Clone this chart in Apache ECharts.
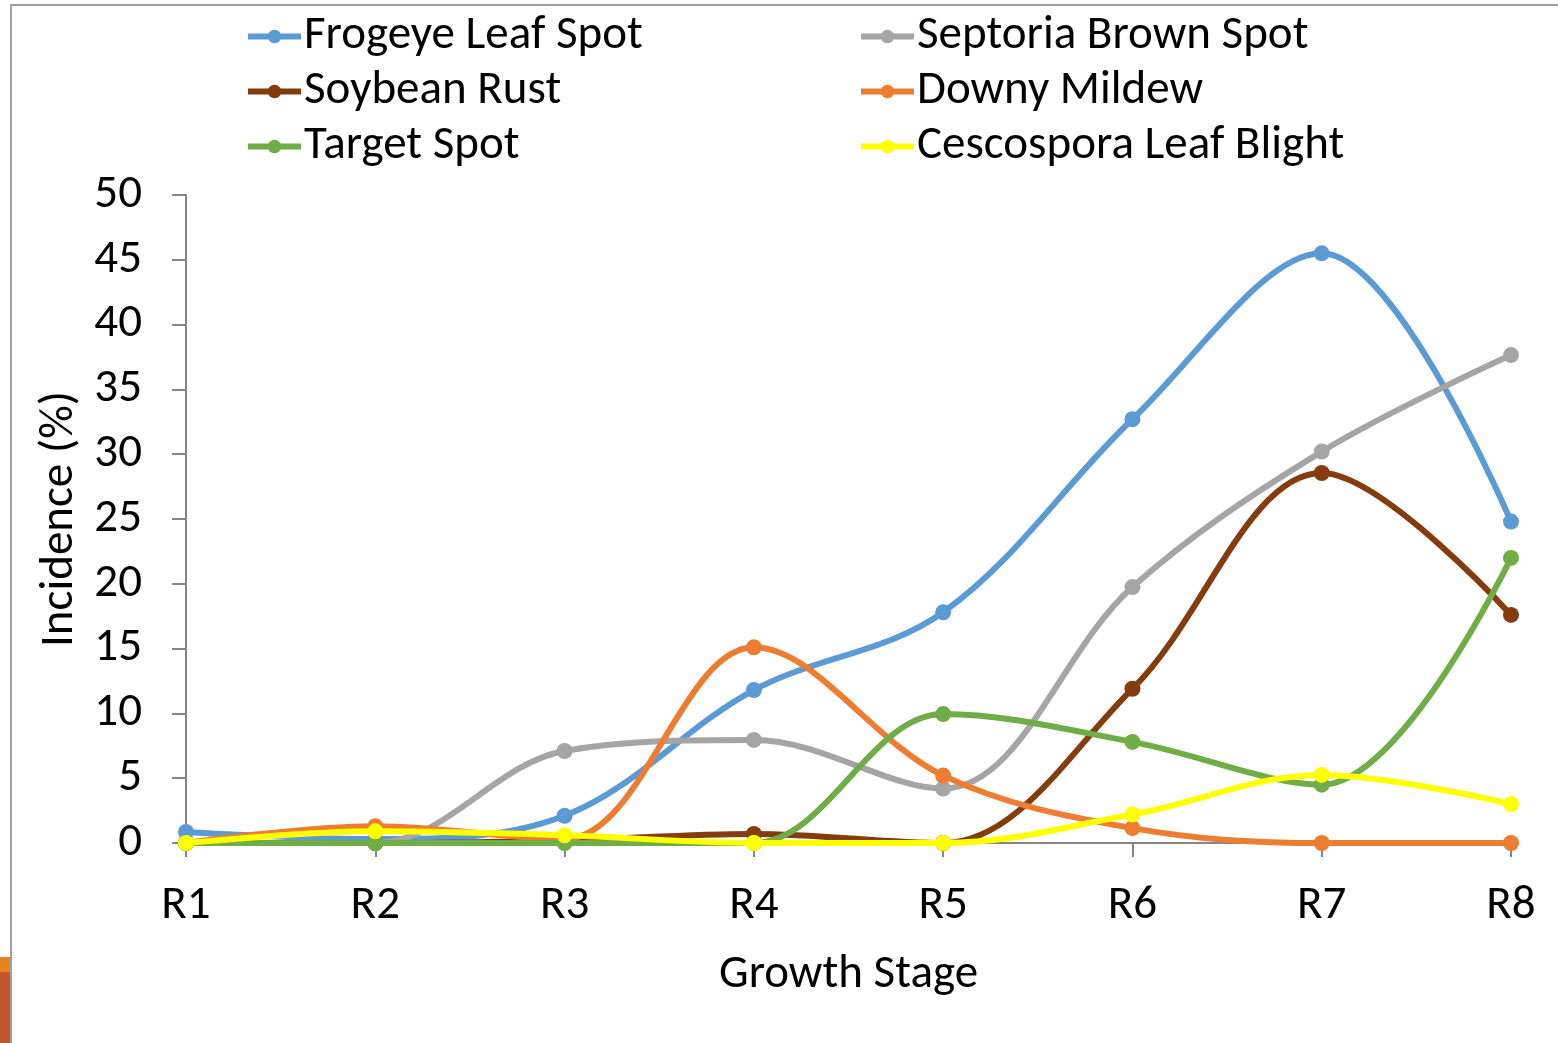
<!DOCTYPE html>
<html><head><meta charset="utf-8">
<script src="https://cdn.jsdelivr.net/npm/echarts@6/dist/echarts.min.js"></script>
<style>html,body{margin:0;padding:0;background:#fff}#c{width:1558px;height:1043px}</style>
</head><body><div id="c"></div>
<script>
const categories = ['R1','R2','R3','R4','R5','R6','R7','R8'];
const frogeye   = [0.85, 0.3, 2.1, 11.8, 17.8, 32.7, 45.5, 24.8];
const septoria  = [0, 0, 7.1, 7.95, 4.2, 19.75, 30.2, 37.65];
const rust      = [0, 0, 0.2, 0.7, 0, 11.9, 28.55, 17.6];
const downy     = [0, 1.3, 0.3, 15.1, 5.2, 1.15, 0, 0];
const target    = [0, 0, 0, 0, 9.95, 7.8, 4.5, 22];
const cesco     = [0, 0.9, 0.6, 0, 0, 2.2, 5.25, 3.0];
const yTicks = [0,5,10,15,20,25,30,35,40,45,50];

const FONT = "Carlito, 'Open Sans', sans-serif";
const FS = 47;
const names = ['Frogeye Leaf Spot','Septoria Brown Spot','Soybean Rust','Downy Mildew','Target Spot','Cescospora Leaf Blight'];
const colors = ['#5B9BD5','#A5A5A5','#843C0C','#ED7D31','#70AD47','#FFFF00'];
const datas = [frogeye, septoria, rust, downy, target, cesco];

const chart = echarts.init(document.getElementById('c'), null, {renderer:'canvas'});
const legendCommon = {
  orient:'vertical', top:13, padding:0, itemGap:8, itemWidth:53, itemHeight:17,
  lineStyle:{width:6},
  textStyle:{fontFamily:FONT, fontSize:FS, lineHeight:47, color:'#000', padding:[0,0,0,-2]}
};
chart.setOption({
  animation:false,
  backgroundColor:'#fff',
  graphic:[
    {type:'rect', shape:{x:11,y:5,width:1600,height:1100}, style:{fill:'none', stroke:'#A0A0A0', lineWidth:2}},
    {type:'rect', shape:{x:0,y:957,width:10,height:15}, style:{fill:'#E8821A'}},
    {type:'rect', shape:{x:0,y:972,width:10,height:71}, style:{fill:'#C0582C'}}
  ],
  legend:[
    Object.assign({}, legendCommon, {left:245, data:[names[0],names[2],names[4]]}),
    Object.assign({}, legendCommon, {left:858, data:[names[1],names[3],names[5]]})
  ],
  grid:{left:186, right:47, top:195, bottom:200, containLabel:false},
  xAxis:{
    type:'category', data:categories, boundaryGap:false,
    name:'Growth Stage', nameLocation:'middle', nameGap:109,
    nameTextStyle:{fontFamily:FONT, fontSize:FS, color:'#000'},
    axisLine:{lineStyle:{color:'#868686', width:2}},
    axisTick:{show:true, alignWithLabel:true, length:14, lineStyle:{color:'#868686', width:2}},
    axisLabel:{fontFamily:FONT, fontSize:FS, color:'#000', margin:40}
  },
  yAxis:{
    type:'value', min:0, max:50, interval:5,
    name:'Incidence (%)', nameLocation:'middle', nameGap:101,
    nameTextStyle:{fontFamily:FONT, fontSize:FS, color:'#000'},
    splitLine:{show:false},
    axisLine:{show:true, lineStyle:{color:'#868686', width:2}},
    axisTick:{show:true, length:14, lineStyle:{color:'#868686', width:2}},
    axisLabel:{fontFamily:FONT, fontSize:FS, color:'#000', margin:44,
      formatter:v => yTicks.includes(v) ? String(v) : ''}
  },
  series: names.map((n,i)=>({
    name:n, type:'line', data:datas[i], smooth:0.35,
    symbol:'circle', symbolSize:16, showSymbol:true,
    lineStyle:{color:colors[i], width:6},
    itemStyle:{color:colors[i]},
    z:2+i
  }))
});
</script></body></html>
